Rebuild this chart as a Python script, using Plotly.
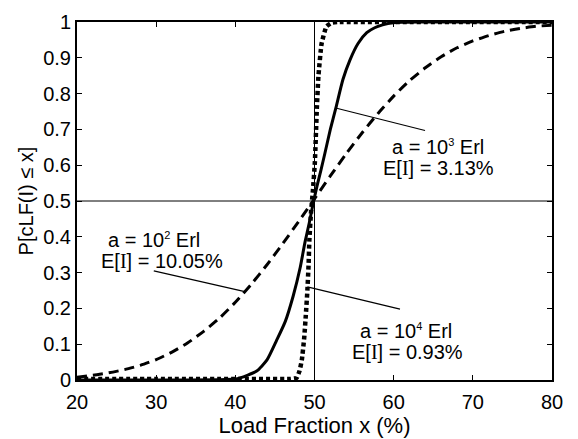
import plotly.graph_objects as go

# ---------------- data ----------------
x_a100 = [20, 22, 24, 26, 28, 30, 32, 34, 36, 38, 40, 42, 44, 46, 48, 50,
          52, 54, 56, 58, 60, 62, 64, 66, 68, 70, 72, 74, 76, 78, 80]
y_a100 = [0.008, 0.013, 0.020, 0.029, 0.041, 0.057, 0.078, 0.104, 0.136, 0.173,
          0.217, 0.267, 0.322, 0.381, 0.443, 0.506, 0.570, 0.632, 0.690, 0.744,
          0.793, 0.836, 0.872, 0.903, 0.928, 0.947, 0.962, 0.974, 0.982, 0.988, 0.991]

x_a1000 = [20, 30, 38, 40, 40.6, 41.5, 42.7, 44.0, 45.2, 46.3, 47.3, 48.2, 48.8,
           49.35, 49.8, 50.3, 50.8, 51.3, 52.0, 52.7, 53.6, 54.5, 55.5, 56.6, 57.6,
           58.6, 59.6, 61, 63, 70, 80]
y_a1000 = [0.0, 0.0, 0.001, 0.003, 0.006, 0.013, 0.025, 0.056, 0.11, 0.163, 0.234,
           0.315, 0.385, 0.44, 0.49, 0.54, 0.585, 0.632, 0.70, 0.76, 0.84, 0.895,
           0.94, 0.97, 0.984, 0.992, 0.997, 0.999, 1.0, 1.0, 1.0]

x_a10000 = [20, 30, 40, 47.0, 47.75, 48.1, 48.4, 48.7, 48.9, 49.1, 49.25, 49.35,
            49.55, 49.8, 50.05, 50.3, 50.5, 50.9, 51.5, 52.2, 53, 60, 70, 80]
y_a10000 = [0.003, 0.003, 0.003, 0.003, 0.006, 0.025, 0.056, 0.118, 0.18, 0.25,
            0.32, 0.39, 0.465, 0.53, 0.61, 0.76, 0.85, 0.94, 0.987, 0.998, 1.0,
            1.0, 1.0, 1.0]

x_ticks = [20, 30, 40, 50, 60, 70, 80]
y_ticks = [0, 0.1, 0.2, 0.3, 0.4, 0.5, 0.6, 0.7, 0.8, 0.9, 1]
y_tick_labels = ["0", "0.1", "0.2", "0.3", "0.4", "0.5", "0.6", "0.7", "0.8", "0.9", "1"]

ref_x = 50
ref_y = 0.5

SUP = '<sup><span style="font-size:11px">{}</span></sup>'
SERIF_I = '<span style="font-family:\'Liberation Serif\', \'DejaVu Serif\', serif">I</span>'

# label texts, their positions and pointer lines (data coordinates)
label_line1 = ["a = 10" + SUP.format("3") + " Erl",
               "a = 10" + SUP.format("2") + " Erl",
               "a = 10" + SUP.format("4") + " Erl"]
label_line2 = ["E[" + SERIF_I + "] = 3.13%",
               "E[" + SERIF_I + "] = 10.05%",
               "E[" + SERIF_I + "] = 0.93%"]
label_x1 = [65.6, 29.7, 61.5]
label_y1 = [0.652, 0.392, 0.138]
label_x2 = [65.7, 30.7, 61.8]
label_y2 = [0.591, 0.332, 0.078]
pointer_from = [(52.8, 0.759), (41.2, 0.247), (49.1, 0.26)]
pointer_to = [(63.96, 0.697), (29.7, 0.305), (60.8, 0.198)]

FONT = "Liberation Sans, Arial, sans-serif"

fig = go.Figure()

fig.add_trace(go.Scatter(x=x_a100, y=y_a100, mode="lines",
                         line=dict(color="black", width=3, dash="10px,6px", shape="spline", smoothing=0.6),
                         showlegend=False, hoverinfo="skip"))
fig.add_trace(go.Scatter(x=x_a1000, y=y_a1000, mode="lines",
                         line=dict(color="black", width=3, shape="spline", smoothing=0.6),
                         showlegend=False, hoverinfo="skip"))
fig.add_trace(go.Scatter(x=x_a10000, y=y_a10000, mode="lines",
                         line=dict(color="black", width=4.5, dash="4px,3px", shape="spline", smoothing=0.4),
                         showlegend=False, hoverinfo="skip"))

# reference lines
fig.add_shape(type="line", x0=ref_x, x1=ref_x, y0=0, y1=1, xref="x", yref="y",
              line=dict(color="black", width=1), layer="below")
fig.add_shape(type="line", x0=20, x1=80, y0=ref_y, y1=ref_y, xref="x", yref="y",
              line=dict(color="black", width=1), layer="below")

for i in range(3):
    (px0, py0), (px1, py1) = pointer_from[i], pointer_to[i]
    fig.add_shape(type="line", x0=px0, y0=py0, x1=px1, y1=py1, xref="x", yref="y",
                  line=dict(color="black", width=1.2))
    fig.add_annotation(x=label_x1[i], y=label_y1[i], text=label_line1[i], showarrow=False,
                       xanchor="center", yanchor="middle", font=dict(family=FONT, size=20, color="black"))
    fig.add_annotation(x=label_x2[i], y=label_y2[i], text=label_line2[i], showarrow=False,
                       xanchor="center", yanchor="middle", font=dict(family=FONT, size=20, color="black"))

fig.update_layout(
    width=578, height=439,
    margin=dict(l=77, r=26, t=11, b=55),
    paper_bgcolor="white", plot_bgcolor="white",
    font=dict(family=FONT, size=20, color="black"),
    xaxis=dict(range=[20, 80], tickvals=x_ticks, ticks="inside", ticklen=5, tickwidth=1,
               tickcolor="black", showline=True, linecolor="black", linewidth=2, mirror="ticks",
               showgrid=False, zeroline=False, ticklabelstandoff=3,
               title=dict(text="Load Fraction x (%)", font=dict(size=22), standoff=0),
               tickfont=dict(size=20)),
    yaxis=dict(range=[0, 1], tickvals=y_ticks, ticktext=y_tick_labels, ticks="inside", ticklen=5,
               tickwidth=1, tickcolor="black", showline=True, linecolor="black", linewidth=2,
               mirror="ticks", showgrid=False, zeroline=False,
               title=dict(text="P[cLF(I) ≤ x]", font=dict(size=20), standoff=4),
               tickfont=dict(size=20)),
)

fig.write_html("out.html")
